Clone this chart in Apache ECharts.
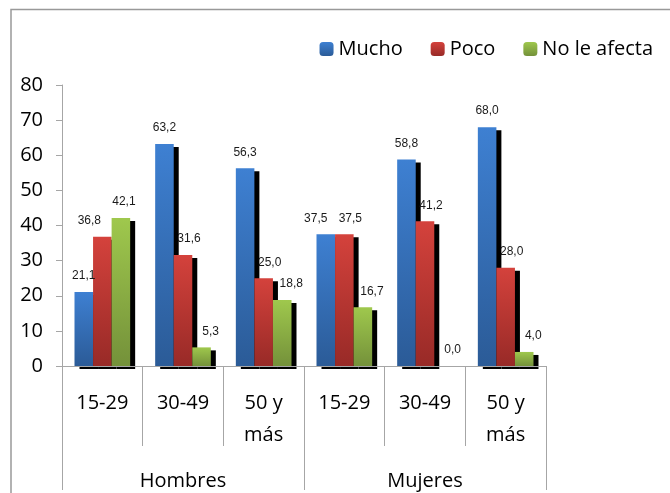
<!DOCTYPE html>
<html lang="es">
<head>
    <meta charset="UTF-8">
    <title>Mucho / Poco / No le afecta</title>
    <script src="https://cdn.jsdelivr.net/npm/echarts@6/dist/echarts.min.js"></script>
    <style>
        html, body { margin: 0; padding: 0; background: #fff; }
        #chart { width: 670px; height: 493px; }
    </style>
</head>
<body>
<div id="chart"></div>
<script>
    var grupos = ["Hombres", "Mujeres"];
    var edades = ["15-29", "30-49", "50 y\nmás", "15-29", "30-49", "50 y\nmás"];
    var mucho = [21.1, 63.2, 56.3, 37.5, 58.8, 68.0];
    var poco = [36.8, 31.6, 25.0, 37.5, 41.2, 28.0];
    var noAfecta = [42.1, 5.3, 18.8, 16.7, 0.0, 4.0];
    var yTicks = [0, 10, 20, 30, 40, 50, 60, 70, 80];

    var axisGray = "#a6a6a6";
    var font = "'Open Sans', sans-serif";

    // labels that were moved by hand in the original chart (x offset, px)
    var labelNudge = {
        "Mucho": {3: -10},
        "Poco": {0: -13},
        "No le afecta": {0: 3}
    };

    function grad(top, bottom) {
        return new echarts.graphic.LinearGradient(0, 0, 0, 1, [
            {offset: 0, color: top},
            {offset: 1, color: bottom}
        ]);
    }

    function makeSeries(name, data, top, bottom, dx) {
        var nudge = labelNudge[name] || {};
        var items = data.map(function (v, i) {
            if (nudge[i] === undefined) return v;
            return {value: v, label: {offset: [nudge[i], 0]}};
        });
        return {
            name: name,
            type: "bar",
            data: items,
            barGap: "0%",
            barCategoryGap: "31%",
            itemStyle: {
                color: grad(top, bottom),
                shadowColor: "#000",
                shadowBlur: 0,
                shadowOffsetX: 5,
                shadowOffsetY: 3
            },
            label: {
                show: true,
                position: "top",
                distance: 10,
                offset: [dx, 0],
                fontFamily: "'Liberation Sans', Arial, sans-serif",
                fontSize: 12,
                color: "#1a1a1a",
                formatter: function (p) {
                    return p.value.toFixed(1).replace(".", ",");
                }
            }
        };
    }

    var chart = echarts.init(document.getElementById("chart"));
    chart.setOption({
        animation: false,
        legend: {
            right: 12,
            top: 34,
            itemWidth: 14,
            itemHeight: 14,
            itemGap: 28,
            textStyle: {fontFamily: font, fontSize: 20, color: "#000"},
            itemStyle: {shadowColor: "transparent", shadowBlur: 0, shadowOffsetX: 0, shadowOffsetY: 0},
            data: ["Mucho", "Poco", "No le afecta"]
        },
        grid: {left: 62, right: 124, top: 85, bottom: 124},
        xAxis: [{
            type: "category",
            data: edades,
            z: 5,
            axisLine: {show: true, lineStyle: {color: axisGray}},
            axisTick: {show: true, length: 80, interval: 0, lineStyle: {color: axisGray}},
            axisLabel: {
                interval: 0, margin: 21, fontFamily: font, fontSize: 20,
                lineHeight: 32, color: "#000"
            }
        }, {
            type: "category",
            data: grupos,
            position: "bottom",
            z: 5,
            axisLine: {show: false},
            axisTick: {show: true, length: 124, interval: 0, lineStyle: {color: axisGray}},
            axisLabel: {
                interval: 0, margin: 103, fontFamily: font, fontSize: 20,
                lineHeight: 24, color: "#000"
            }
        }],
        yAxis: {
            type: "value",
            min: yTicks[0],
            max: yTicks[yTicks.length - 1],
            interval: yTicks[1] - yTicks[0],
            z: 5,
            axisLine: {show: true, lineStyle: {color: axisGray}},
            axisTick: {show: true, length: 6, lineStyle: {color: axisGray}},
            splitLine: {show: false},
            axisLabel: {margin: 19, fontFamily: font, fontSize: 20, color: "#000"}
        },
        graphic: [
            // hides the part of the bar shadow that falls below the axis
            {type: "rect", z: 3, shape: {x: 63, y: 370, width: 483, height: 5}, style: {fill: "#fff"}},
            // chart area frame (cut off at right and bottom)
            {type: "polyline", z: 1, shape: {points: [[11, 500], [11, 9.5], [680, 9.5]]},
                style: {stroke: "#999", lineWidth: 1.5, fill: null}}
        ],
        series: [
            makeSeries("Mucho", mucho, "#3e80d2", "#2b5b97", 0),
            makeSeries("Poco", poco, "#d4423c", "#982a27", 6),
            makeSeries("No le afecta", noAfecta, "#9fc84d", "#74913a", 9)
        ]
    });
</script>
</body>
</html>
